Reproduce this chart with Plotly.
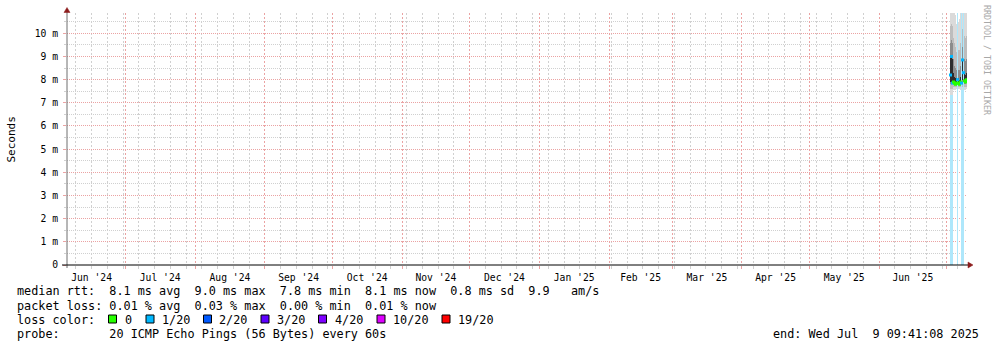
import plotly.graph_objects as go

# ---------------- data ----------------
# one entry per pixel-column of the year graph (~10h40m each)
times = [
    "2025-07-02 18:08", "2025-07-03 04:48", "2025-07-03 15:28", "2025-07-04 02:08",
    "2025-07-04 12:48", "2025-07-04 23:28", "2025-07-05 10:08", "2025-07-05 20:48",
    "2025-07-06 07:28", "2025-07-06 18:08", "2025-07-07 04:48", "2025-07-07 15:28",
    "2025-07-08 02:08", "2025-07-08 12:48", "2025-07-08 23:28", "2025-07-09 10:08",
    "2025-07-09 20:48",
]
# smoke percentiles (ms); None = no smoke in that column
smoke_min = [7.35, 7.35, 7.35, 7.55, 7.55, 7.55, 7.6, None, 7.6, 7.6, 7.55, None, 7.55, None, 7.55, 7.55, 7.6]
smoke_q10 = [7.6, 7.6, 7.6, 7.7, 7.7, 7.7, 7.7, None, 7.7, 7.7, 7.7, None, 7.7, None, 7.7, 7.7, 7.7]
smoke_q25 = [7.8, 7.8, 7.8, 7.8, 7.8, 7.8, 7.8, None, 7.8, 7.8, 7.8, None, 7.8, None, 7.8, 7.8, 7.85]
smoke_q40 = [7.9, 7.9, 7.9, 7.9, 7.85, 7.85, 7.85, None, 7.85, 7.85, 7.85, None, 8.0, None, 7.9, 7.9, 7.95]
smoke_q60 = [9.0, 9.0, 8.9, 8.3, 8.1, 8.05, 8.05, None, 8.05, 8.0, 8.1, None, 8.85, None, 8.3, 8.2, 8.3]
smoke_q75 = [9.6, 9.7, 9.6, 8.9, 8.6, 8.5, 8.4, None, 8.4, 8.4, 8.6, None, 9.4, None, 8.9, 8.8, 8.9]
smoke_q90 = [10.3, 10.4, 10.3, 9.8, 9.6, 9.4, 9.2, None, 9.3, 9.3, 9.6, None, 10.2, None, 9.9, 9.8, 9.9]
smoke_max = [11.5, 11.5, 11.5, 11.5, 11.5, 10.8, 10.4, None, 10.5, 10.6, 11.5, None, 11.5, None, 11.5, 11.5, 11.5]
median_ms = [8.2, 9.0, 7.85, 7.9, 7.85, 7.8, 7.85, 8.0, 7.85, 7.8, 7.9, 7.85, 8.85, 8.3, 7.95, 7.9, 8.0]
loss_cnt = [1, 1, 1, 0, 0, 0, 0, 1, 0, 0, 0, 1, 1, 1, 0, 0, 0]

loss_levels = [0, 1, 2, 3, 4, 10, 19]
loss_labels = ["0", "1/20", "2/20", "3/20", "4/20", "10/20", "19/20"]
loss_colors = ["#26ff00", "#00b8ff", "#0059ff", "#5e00ff", "#7e00ff", "#dd00ff", "#ff0000"]
loss_bg_colors = ["#ffffff", "#aee7fb", "#aecbff", "#cbaeff", "#d5aeff", "#f2aeff", "#ffaeae"]

y_ticks = [0, 1, 2, 3, 4, 5, 6, 7, 8, 9, 10]
y_ticktext = ["0", "1 m", "2 m", "3 m", "4 m", "5 m", "6 m", "7 m", "8 m", "9 m", "10 m"]
y_minor = [0.5, 1.5, 2.5, 3.5, 4.5, 5.5, 6.5, 7.5, 8.5, 9.5, 10.5]

stats_lines = [
    "median rtt:  8.1 ms avg  9.0 ms max  7.8 ms min  8.1 ms now  0.8 ms sd  9.9   am/s",
    "packet loss: 0.01 % avg  0.03 % max  0.00 % min  0.01 % now",
    "loss color:",
    "probe:       20 ICMP Echo Pings (56 Bytes) every 60s",
]
end_text = "end: Wed Jul  9 09:41:08 2025"

# ---------------- geometry helpers (pixels -> paper) ----------------
W, H = 997, 347
L, R, T, B = 67, 30, 13, 82
PW, PH = W - L - R, H - T - B
Y0 = H - B  # pixel y of plot bottom


def px(x):
    return (x - L) / PW


def py(y):
    return (Y0 - y) / PH


COL_MS = 10.6667 * 3600 * 1000
Y_MAX = 10.876
MONO = "DejaVu Sans Mono"

fig = go.Figure()

# loss background bars
lb_x, lb_c = [], []
for t, lc in zip(times, loss_cnt):
    if lc > 0:
        lb_x.append(t)
        idx = max(i for i, lv in enumerate(loss_levels) if lv <= lc)
        lb_c.append(loss_bg_colors[idx])
fig.add_trace(go.Bar(x=lb_x, y=[Y_MAX + 1] * len(lb_x), base=0, width=COL_MS,
                     marker=dict(color=lb_c, line=dict(width=0)), hoverinfo="skip"))

# smoke layers
bands = [
    (smoke_min, smoke_max, "#dadada"),
    (smoke_q10, smoke_q90, "#bdbdbd"),
    (smoke_q25, smoke_q75, "#8c8c8c"),
    (smoke_q40, smoke_q60, "#2e2e2e"),
]
for lo, hi, col in bands:
    xs, bs, hs = [], [], []
    for t, a, b in zip(times, lo, hi):
        if a is None or b is None:
            continue
        xs.append(t)
        bs.append(a)
        hs.append(b - a)
    fig.add_trace(go.Bar(x=xs, y=hs, base=bs, width=COL_MS,
                         marker=dict(color=col, line=dict(width=0)), hoverinfo="skip"))

# median points coloured by loss
med_c = []
for lc in loss_cnt:
    idx = max(i for i, lv in enumerate(loss_levels) if lv <= lc)
    med_c.append(loss_colors[idx])
fig.add_trace(go.Scatter(x=times, y=median_ms, mode="markers",
                         marker=dict(symbol="square", size=3, color=med_c, line=dict(width=0)),
                         hoverinfo="skip"))

MAJ = "#eba3a3"
MIN = "#d0d0d0"

fig.update_layout(
    width=W, height=H,
    margin=dict(l=L, r=R, t=T, b=B, pad=0),
    paper_bgcolor="#ffffff", plot_bgcolor="#ffffff",
    showlegend=False, barmode="overlay", bargap=0,
    font=dict(family=MONO, size=9.7, color="#000000"),
    xaxis=dict(
        type="date",
        range=["2024-06-05 02:08", "2025-07-10 02:08"],
        dtick="M1", tick0="2024-06-01", tickformat="%b '%y", ticklabelmode="period",
        showgrid=True, gridcolor=MAJ, griddash="2px,2px", gridwidth=1,
        ticks="outside", ticklen=3, tickcolor=MAJ,
        tickfont=dict(family=MONO, size=9.7, color="#000"),
        minor=dict(dtick=7 * 86400000, tick0="2024-06-09", showgrid=True, gridcolor=MIN,
                   griddash="2px,2px", ticks="outside", ticklen=3, tickcolor=MIN),
        showline=False, zeroline=False, fixedrange=True,
    ),
    yaxis=dict(
        range=[0, Y_MAX],
        tickvals=y_ticks, ticktext=y_ticktext,
        showgrid=True, gridcolor=MAJ, griddash="1px,1px", gridwidth=1,
        ticks="outside", ticklen=3, tickcolor=MAJ, ticklabelstandoff=3,
        tickfont=dict(family=MONO, size=9.7, color="#000"),
        minor=dict(tickmode="array", tickvals=y_minor, showgrid=True, gridcolor=MIN,
                   griddash="1px,1px", ticks="outside", ticklen=2, tickcolor=MIN),
        showline=False, zeroline=False, fixedrange=True,
    ),
)

shapes = []
# y axis line + arrow
shapes.append(dict(type="line", xref="paper", yref="paper", x0=px(67), x1=px(67),
                   y0=py(10), y1=py(268), line=dict(color="#6e6e6e", width=1)))
shapes.append(dict(type="path", xref="paper", yref="paper",
                   path=f"M {px(64)},{py(12.5)} L {px(70)},{py(12.5)} L {px(67)},{py(7.5)} Z",
                   fillcolor="#8c1c1c", line=dict(color="#8c1c1c", width=0.5)))
# x axis line + arrow
shapes.append(dict(type="line", xref="paper", yref="paper", x0=px(62), x1=px(969),
                   y0=py(265), y1=py(265), line=dict(color="#000000", width=1)))
shapes.append(dict(type="path", xref="paper", yref="paper",
                   path=f"M {px(968)},{py(262)} L {px(968)},{py(268)} L {px(973)},{py(265)} Z",
                   fillcolor="#8c1c1c", line=dict(color="#8c1c1c", width=0.5)))

# legend squares
sq_x = [108.5, 146, 203.5, 261, 318.5, 377, 442]
lab_x = [124, 160.7, 218, 276, 334, 391.7, 456.7]
for sx, col in zip(sq_x, loss_colors):
    shapes.append(dict(type="rect", xref="paper", yref="paper",
                       x0=px(sx), x1=px(sx + 8), y0=py(323), y1=py(315),
                       fillcolor=col, line=dict(color="#000000", width=1)))
fig.update_layout(shapes=shapes)

ann = []
line_y = [291, 305.5, 319.5, 333.7]
for txt, yy in zip(stats_lines, line_y):
    ann.append(dict(text=txt.replace(" ", "\u00a0"), xref="paper", yref="paper",
                    x=px(15), y=py(yy), xanchor="left", yanchor="middle", showarrow=False,
                    font=dict(family=MONO, size=11.8, color="#000")))
for lx, lab in zip(lab_x, loss_labels):
    ann.append(dict(text=lab, xref="paper", yref="paper", x=px(lx - 1), y=py(319.5),
                    xanchor="left", yanchor="middle", showarrow=False,
                    font=dict(family=MONO, size=11.8, color="#000")))
ann.append(dict(text=end_text.replace(" ", "\u00a0"), xref="paper", yref="paper",
                x=px(981), y=py(333.7), xanchor="right", yanchor="middle", showarrow=False,
                font=dict(family=MONO, size=11.8, color="#000")))
ann.append(dict(text="Seconds", xref="paper", yref="paper", x=px(11), y=py(139.5),
                xanchor="center", yanchor="middle", textangle=-90, showarrow=False,
                font=dict(family=MONO, size=11, color="#000")))
ann.append(dict(text="RRDTOOL / TOBI OETIKER", xref="paper", yref="paper", x=px(987), y=py(60),
                xanchor="center", yanchor="middle", textangle=90, showarrow=False,
                font=dict(family=MONO, size=8.3, color="#a8a8a8")))
fig.update_layout(annotations=ann)

fig.write_html("out.html")
